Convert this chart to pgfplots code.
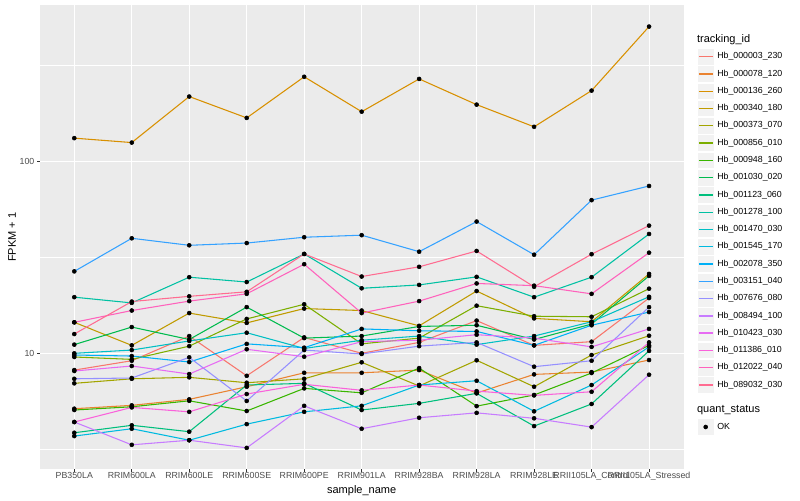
\documentclass[border=0pt]{standalone}
\usepackage{fontspec}
\setmainfont{Liberation Sans}
\usepackage{pgfplots}
\usepackage{pgfplotstable}
\pgfplotsset{compat=1.18}

% ggplot hue palette, 20 levels
\definecolor{c1}{HTML}{F8766D}
\definecolor{c2}{HTML}{EA8331}
\definecolor{c3}{HTML}{D89000}
\definecolor{c4}{HTML}{C09B00}
\definecolor{c5}{HTML}{A3A500}
\definecolor{c6}{HTML}{7CAE00}
\definecolor{c7}{HTML}{39B600}
\definecolor{c8}{HTML}{00BB4E}
\definecolor{c9}{HTML}{00BF7D}
\definecolor{c10}{HTML}{00C1A3}
\definecolor{c11}{HTML}{00BFC4}
\definecolor{c12}{HTML}{00BAE0}
\definecolor{c13}{HTML}{00B0F6}
\definecolor{c14}{HTML}{35A2FF}
\definecolor{c15}{HTML}{9590FF}
\definecolor{c16}{HTML}{C77CFF}
\definecolor{c17}{HTML}{E76BF3}
\definecolor{c18}{HTML}{FA62DB}
\definecolor{c19}{HTML}{FF62BC}
\definecolor{c20}{HTML}{FF6C91}
\definecolor{panelbg}{HTML}{EBEBEB}
\definecolor{keybg}{HTML}{F2F2F2}
\definecolor{ticktext}{HTML}{4D4D4D}
\definecolor{tickline}{HTML}{333333}

% FPKM + 1 per sample (x = sample index)
\pgfplotstableread{
x  s1    s2    s3    s4    s5    s6    s7    s8    s9    s10   s11   s12   s13   s14   s15   s16   s17   s18   s19   s20
0  8.18  5.15  131.8 14.5  6.98  9.57  5.07  11.1  3.86  19.6  10.0  3.71  9.8   26.7  7.37  4.39  8.09  4.39  14.5  12.6
1  9.15  5.36  125   11.0  7.37  9.30  5.27  13.7  4.22  18.3  10.4  4.05  9.68  39.7  7.44  3.34  8.59  5.23  16.7  18.6
2  12.3  5.76  217   16.2  7.50  10.9  5.66  11.8  3.91  24.9  11.6  3.53  9.01  36.5  9.53  3.53  7.8   4.96  18.7  19.8
3  7.64  6.70  168   14.4  7.03  15.1  5.01  17.4  6.84  23.5  12.8  4.28  11.2  37.5  5.65  3.22  10.5  6.14  20.4  20.9
4  12.1  7.92  275   17.1  7.37  18.0  6.57  12.0  6.98  32.9  10.6  4.96  10.7  40.2  10.4  5.33  9.60  6.90  29.1  32.9
5  10.0  7.92  181   16.7  8.98  11.2  6.23  12.3  5.07  21.8  11.7  5.33  13.4  41.2  9.92  4.05  11.5  6.42  16.2  25.1
6  11.4  8.18  268   13.9  6.76  12.0  8.38  13.8  5.49  22.7  12.3  6.84  13.1  33.8  10.9  4.62  11.7  6.84  18.7  28.2
7  14.8  6.21  197   21.1  9.2   17.7  5.31  14.0  6.19  25.0  11.1  7.20  13.0  48.5  11.4  4.90  12.5  6.36  23.1  34.1
8  11.0  7.77  151   15.2  6.70  15.6  6.07  11.8  4.18  19.6  12.3  4.99  11.0  32.6  8.52  4.59  12.0  6.04  22.5  22.2
9  11.5  7.99  233   14.6  9.8   15.5  7.9   14.2  5.45  24.9  14.6  6.84  14.0  62.7  9.15  4.13  10.8  6.31  20.4  32.8
10 19.4  9.23  502   25.9  12.35 21.7  11.0  25.3  10.3  41.8  19.7  10.8  16.4  74.3  17.4  7.74  13.4  11.4  33.4  46.2
}\fpkm

\pgfplotsset{
    ln/.style={line width=0.8pt, line join=round},
    pts/.style={only marks, mark=*, mark size=1.5pt, black, mark options={draw=none, fill=black}, forget plot},
}

\begin{document}
\begin{tikzpicture}
\useasboundingbox (0,0) rectangle (600pt,375pt);
\fill[white] (0,0) rectangle (600pt,375pt);
\begin{axis}[
    at={(29.85pt,23.25pt)}, anchor=south west,
    width=482.8pt, height=347.8pt, scale only axis,
    xmin=-0.6, xmax=10.6,
    ymode=log, ymin=2.5, ymax=648,
    xtick={0,1,2,3,4,5,6,7,8,9,10},
    xticklabels={PB350LA,RRIM600LA,RRIM600LE,RRIM600SE,RRIM600PE,RRIM901LA,RRIM928BA,RRIM928LA,RRIM928LE,RRII105LA\_Control,RRII105LA\_Stressed},
    ytick={10,100}, yticklabels={10,100},
    minor ytick={3.1623,31.623,316.23},
    minor tick length=0pt,
    major tick length=2.06pt,
    tick align=outside,
    tick style={tickline, line width=0.6pt},
    axis x line*=bottom, axis y line*=left,
    axis line style={draw=none},
    axis background/.style={fill=panelbg},
    xmajorgrids, ymajorgrids, yminorgrids,
    major grid style={white, line width=0.8pt},
    minor grid style={white, line width=0.4pt},
    tick label style={font=\fontsize{6.6}{7}\selectfont, text=ticktext},
    xticklabel style={yshift=3pt},
    yticklabel style={xshift=1.5pt},
    /pgf/number format/assume math mode=true,
    xlabel={sample\_name}, ylabel={FPKM + 1},
    label style={font=\fontsize{8.25}{9}\selectfont},
    xlabel style={at={(axis description cs:0.5,-0.047)}, anchor=center},
    ylabel style={at={(axis description cs:-0.0432,0.5)}, anchor=center},
    legend style={at={(1.021,0.9451)}, anchor=north west, draw=none, fill=none,
        inner sep=0pt, outer sep=0pt, row sep=0pt, column sep=2.2pt,
        font=\fontsize{6.6}{7}\selectfont, nodes={inner sep=0pt, outer sep=0pt}},
    legend cell align=left,
    legend image code/.code={
        \filldraw[fill=keybg, draw=white, line width=0.5pt] (0.25pt,-6.23pt) rectangle (12.71pt,6.23pt);
        \draw[#1, line width=1pt] (1.3pt,0pt) -- (11.66pt,0pt);
    },
]
\addlegendimage{legend image code/.code={\path[draw=none, fill=none] (0pt,-6.48pt) rectangle (12.96pt,6.48pt);}}
\addlegendentry{\hspace*{-15.16pt}\fontsize{8.25}{9}\selectfont tracking\_id}

\addplot[ln, c1] table[x=x,y=s1]{\fpkm}; \addlegendentry{Hb\_000003\_230}
\addplot[ln, c2] table[x=x,y=s2]{\fpkm}; \addlegendentry{Hb\_000078\_120}
\addplot[ln, c3] table[x=x,y=s3]{\fpkm}; \addlegendentry{Hb\_000136\_260}
\addplot[ln, c4] table[x=x,y=s4]{\fpkm}; \addlegendentry{Hb\_000340\_180}
\addplot[ln, c5] table[x=x,y=s5]{\fpkm}; \addlegendentry{Hb\_000373\_070}
\addplot[ln, c6] table[x=x,y=s6]{\fpkm}; \addlegendentry{Hb\_000856\_010}
\addplot[ln, c7] table[x=x,y=s7]{\fpkm}; \addlegendentry{Hb\_000948\_160}
\addplot[ln, c8] table[x=x,y=s8]{\fpkm}; \addlegendentry{Hb\_001030\_020}
\addplot[ln, c9] table[x=x,y=s9]{\fpkm}; \addlegendentry{Hb\_001123\_060}
\addplot[ln, c10] table[x=x,y=s10]{\fpkm}; \addlegendentry{Hb\_001278\_100}
\addplot[ln, c11] table[x=x,y=s11]{\fpkm}; \addlegendentry{Hb\_001470\_030}
\addplot[ln, c12] table[x=x,y=s12]{\fpkm}; \addlegendentry{Hb\_001545\_170}
\addplot[ln, c13] table[x=x,y=s13]{\fpkm}; \addlegendentry{Hb\_002078\_350}
\addplot[ln, c14] table[x=x,y=s14]{\fpkm}; \addlegendentry{Hb\_003151\_040}
\addplot[ln, c15] table[x=x,y=s15]{\fpkm}; \addlegendentry{Hb\_007676\_080}
\addplot[ln, c16] table[x=x,y=s16]{\fpkm}; \addlegendentry{Hb\_008494\_100}
\addplot[ln, c17] table[x=x,y=s17]{\fpkm}; \addlegendentry{Hb\_010423\_030}
\addplot[ln, c18] table[x=x,y=s18]{\fpkm}; \addlegendentry{Hb\_011386\_010}
\addplot[ln, c19] table[x=x,y=s19]{\fpkm}; \addlegendentry{Hb\_012022\_040}
\addplot[ln, c20] table[x=x,y=s20]{\fpkm}; \addlegendentry{Hb\_089032\_030}

% points on top of all lines
\addplot[pts] table[x=x,y=s1]{\fpkm};
\addplot[pts] table[x=x,y=s2]{\fpkm};
\addplot[pts] table[x=x,y=s3]{\fpkm};
\addplot[pts] table[x=x,y=s4]{\fpkm};
\addplot[pts] table[x=x,y=s5]{\fpkm};
\addplot[pts] table[x=x,y=s6]{\fpkm};
\addplot[pts] table[x=x,y=s7]{\fpkm};
\addplot[pts] table[x=x,y=s8]{\fpkm};
\addplot[pts] table[x=x,y=s9]{\fpkm};
\addplot[pts] table[x=x,y=s10]{\fpkm};
\addplot[pts] table[x=x,y=s11]{\fpkm};
\addplot[pts] table[x=x,y=s12]{\fpkm};
\addplot[pts] table[x=x,y=s13]{\fpkm};
\addplot[pts] table[x=x,y=s14]{\fpkm};
\addplot[pts] table[x=x,y=s15]{\fpkm};
\addplot[pts] table[x=x,y=s16]{\fpkm};
\addplot[pts] table[x=x,y=s17]{\fpkm};
\addplot[pts] table[x=x,y=s18]{\fpkm};
\addplot[pts] table[x=x,y=s19]{\fpkm};
\addplot[pts] table[x=x,y=s20]{\fpkm};

\addlegendimage{legend image code/.code={\path[draw=none, fill=none] (0pt,-6.48pt) rectangle (12.96pt,12.08pt);}}
\addlegendentry{\hspace*{-15.16pt}\fontsize{8.25}{9}\selectfont quant\_status}
\addlegendimage{legend image code/.code={
    \filldraw[fill=keybg, draw=white, line width=0.5pt] (0.25pt,-6.23pt) rectangle (12.71pt,6.23pt);
    \fill[black] (6.48pt,0pt) circle (1.5pt);}}
\addlegendentry{OK}
\end{axis}
\end{tikzpicture}
\end{document}
